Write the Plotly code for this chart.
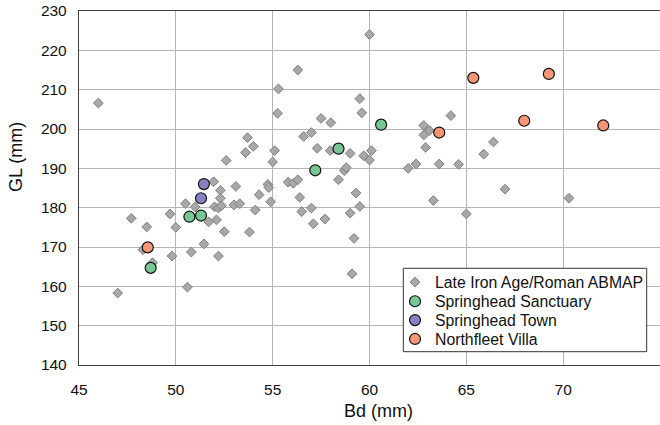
import plotly.graph_objects as go

# Late Iron Age/Roman ABMAP
abmap_bd = [46.0, 47.0, 47.7, 48.3, 48.5, 48.8, 49.7, 49.8, 50.0, 50.5,
            50.6, 50.8, 51.0, 51.45, 51.7, 51.95, 52.0, 52.1, 52.2, 52.2,
            52.3, 52.3, 52.35, 52.5, 52.6, 53.0, 53.1, 53.3, 53.6, 53.7,
            53.8, 54.0, 54.1, 54.3, 54.75, 54.8, 54.9, 55.0, 55.1, 55.25,
            55.3, 55.8, 56.06, 56.3, 56.3, 56.4, 56.5, 56.6, 57.0, 57.0,
            57.1, 57.3, 57.5, 57.7, 57.97, 58.0, 58.4, 58.7, 58.8, 59.0,
            59.0, 59.1, 59.2, 59.3, 59.5, 59.5, 59.6, 59.7, 60.0, 60.0,
            60.1, 62.0, 62.4, 62.8, 62.8, 62.9, 63.1, 63.3, 63.6, 64.2,
            64.6, 65.0, 65.9, 66.4, 67.0, 70.3]
abmap_gl = [206.6, 158.3, 177.3, 169.3, 175.1, 166.0, 178.4, 167.7, 175.0, 181.0,
            159.8, 168.7, 180.2, 170.8, 176.4, 186.6, 180.2, 176.9, 179.9, 167.7,
            184.4, 182.4, 180.5, 173.9, 192.0, 180.7, 185.4, 181.0, 194.0, 197.8,
            173.8, 195.6, 179.4, 183.3, 185.9, 185.1, 181.5, 191.6, 194.5, 204.0,
            210.2, 186.5, 186.2, 187.1, 215.0, 182.6, 179.0, 198.1, 199.1, 179.9,
            175.9, 195.1, 202.7, 177.1, 194.5, 201.6, 187.1, 189.4, 190.2, 193.8,
            178.6, 163.2, 172.2, 183.7, 180.3, 207.7, 204.1, 193.2, 192.1, 224.0,
            194.5, 190.0, 191.1, 200.9, 198.5, 195.3, 199.6, 181.8, 191.1, 203.4,
            191.0, 178.4, 193.6, 196.7, 184.7, 182.4]

sanct_bd = [48.7, 50.7, 51.3, 57.2, 58.4, 60.6]
sanct_gl = [164.7, 177.7, 178.0, 189.5, 195.0, 201.1]

town_bd = [51.3, 51.45]
town_gl = [182.4, 186.0]

villa_bd = [48.55, 63.6, 65.36, 67.99, 69.26, 72.07]
villa_gl = [169.9, 199.1, 213.0, 202.1, 214.0, 200.9]

x_ticks = [45, 50, 55, 60, 65, 70, 75]
y_ticks = [140, 150, 160, 170, 180, 190, 200, 210, 220, 230]

FONT = "Liberation Sans, Arial, sans-serif"

# plot-area geometry in pixels (for positioning text / legend)
L, R, T, B = 79, 660, 11, 365
PW, PH = R - L, B - T


def px_x(p):
    return (p - L) / PW


def px_y(p):
    return (B - p) / PH


fig = go.Figure()
fig.add_trace(go.Scatter(
    x=abmap_bd, y=abmap_gl, mode="markers", name="Late Iron Age/Roman ABMAP",
    legend="legend", showlegend=True,
    marker=dict(symbol="diamond", size=7.5, color="#a8a8a8",
                line=dict(color="#7f7f7f", width=1))))
fig.add_trace(go.Scatter(
    x=sanct_bd, y=sanct_gl, mode="markers", name="Springhead Sanctuary",
    legend="legend2", showlegend=True,
    marker=dict(symbol="circle", size=11, color="#77c794",
                line=dict(color="#111111", width=1.2))))
fig.add_trace(go.Scatter(
    x=town_bd, y=town_gl, mode="markers", name="Springhead Town",
    legend="legend3", showlegend=True,
    marker=dict(symbol="circle", size=11, color="#8482c2",
                line=dict(color="#111111", width=1.2))))
fig.add_trace(go.Scatter(
    x=villa_bd, y=villa_gl, mode="markers", name="Northfleet Villa",
    legend="legend4", showlegend=True,
    marker=dict(symbol="circle", size=11, color="#f79577",
                line=dict(color="#111111", width=1.2))))

leg_font = dict(size=15.8, family=FONT, color="#111111")
leg_x = px_x(395)
item_y = [282.3, 301.5, 320.3, 339.2]


def leg(yc):
    return dict(x=leg_x, y=px_y(yc), xanchor="left", yanchor="middle",
                bgcolor="rgba(0,0,0,0)", borderwidth=0, font=leg_font,
                itemwidth=30, visible=True)


fig.update_layout(
    width=660, height=425,
    showlegend=True,
    margin=dict(l=L, r=660 - R, t=T, b=425 - B),
    paper_bgcolor="white", plot_bgcolor="white",
    font=dict(family=FONT, size=15.5, color="#111111"),
    legend=leg(item_y[0]),
    legend2=leg(item_y[1]),
    legend3=leg(item_y[2]),
    legend4=leg(item_y[3]),
    xaxis=dict(
        range=[45, 75], tickvals=x_ticks, ticktext=[str(v) for v in x_ticks],
        showgrid=True, gridcolor="#b5b5b5", gridwidth=1.3,
        showline=True, linecolor="#404040", linewidth=1.3, mirror=True,
        zeroline=False, ticks="", ticklabelstandoff=10),
    yaxis=dict(
        range=[140, 230], tickvals=y_ticks, ticktext=[str(v) for v in y_ticks],
        showgrid=True, gridcolor="#b5b5b5", gridwidth=1.3,
        showline=True, linecolor="#404040", linewidth=1.3, mirror=True,
        zeroline=False, ticks="", ticklabelstandoff=8),
    shapes=[
        dict(type="rect", xref="paper", yref="paper", layer="above",
             x0=px_x(403.3), x1=px_x(646.7), y0=px_y(351.7), y1=px_y(268.3),
             fillcolor="white", line=dict(color="#333333", width=1)),
    ],
    annotations=[
        dict(text="Bd (mm)", xref="paper", yref="paper",
             x=px_x(378), y=px_y(411),
             xanchor="center", yanchor="middle", showarrow=False,
             font=dict(size=18, family=FONT, color="#111111")),
        dict(text="GL (mm)", xref="paper", yref="paper",
             x=px_x(16), y=px_y(157),
             xanchor="center", yanchor="middle", showarrow=False, textangle=-90,
             font=dict(size=18, family=FONT, color="#111111")),
    ],
)

fig.write_html("out.html")
